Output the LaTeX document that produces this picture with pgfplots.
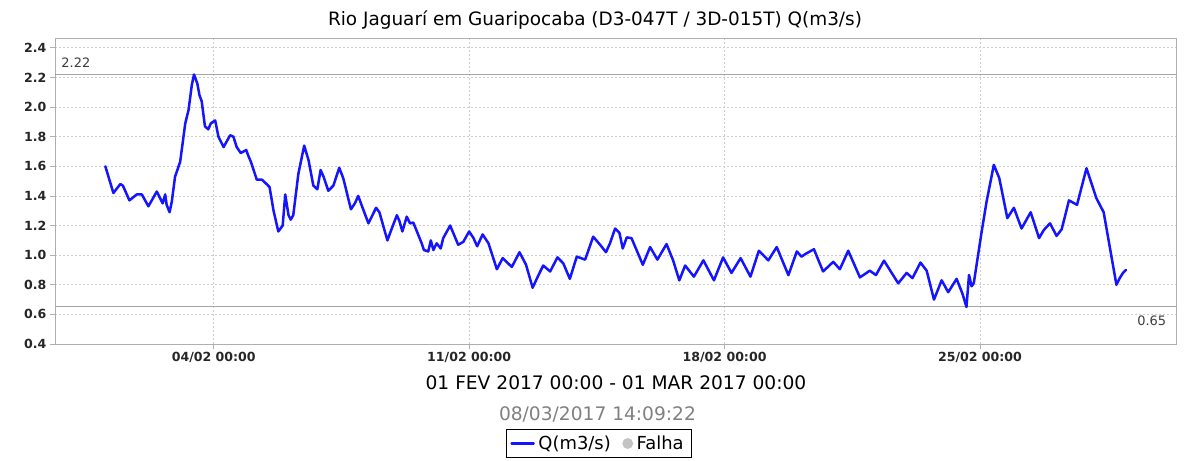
\documentclass[border=0pt]{standalone}
\usepackage{fontspec}
\setmainfont{DejaVu Sans}
\usepackage{pgfplots}
\pgfplotsset{compat=1.18}
\definecolor{gridc}{RGB}{205,205,205}
\definecolor{axc}{RGB}{175,175,175}
\definecolor{refc}{RGB}{165,165,165}
\definecolor{qblue}{RGB}{20,20,255}
\definecolor{labc}{RGB}{60,60,60}
\definecolor{falc}{RGB}{195,195,195}
\begin{document}
\begin{tikzpicture}
\path[use as bounding box] (-55bp,-117bp) rectangle (1134bp,344bp);
\begin{axis}[
  at={(0,0)}, anchor=south west,
  scale only axis, width=1122bp, height=305bp,
  xmin=-1.35, xmax=29.4, ymin=0.4, ymax=2.46,
  xtick={3,10,17,24},
  xticklabels={04/02 00:00,11/02 00:00,18/02 00:00,25/02 00:00},
  ytick={0.4,0.6,0.8,1.0,1.2,1.4,1.6,1.8,2.0,2.2,2.4},
  yticklabel style={/pgf/number format/.cd, fixed, fixed zerofill, precision=1},
  /pgf/number format/assume math mode=true,
  tick label style={font=\bfseries\fontsize{12.6}{14}\selectfont, text=black!85},
  tick pos=left, tick align=outside, major tick length=5bp,
  tick style={axc, line width=0.8bp},
  axis line style={axc, line width=1bp},
  grid=major,
  major grid style={gridc, dash pattern=on 2bp off 2bp, line width=0.8bp},
  legend columns=2,
  legend style={at={(axis description cs:0.4846,-0.3262)}, anchor=center,
    draw=black, line width=0.8bp, font=\fontsize{18}{20}\selectfont,
    inner xsep=4bp, inner ysep=2.5bp,
    nodes={inner xsep=3.5bp, inner ysep=4bp},
    /tikz/every even column/.append style={column sep=8bp}},
]
\addplot[refc, line width=1bp, forget plot] coordinates {(-1.35,2.22) (29.4,2.22)};
\addplot[refc, line width=1bp, forget plot] coordinates {(-1.35,0.65) (29.4,0.65)};
\addplot[qblue, line width=2.5bp, line join=round, line cap=round,
  legend image code/.code={\draw[qblue, line width=2.6bp] (0bp,0bp) -- (22bp,0bp);}] coordinates {
(0.03,1.60) (0.25,1.42) (0.44,1.48) (0.51,1.47) (0.69,1.37) (0.89,1.41) (1.03,1.41)
(1.21,1.33) (1.44,1.43) (1.60,1.35) (1.67,1.41) (1.71,1.34) (1.79,1.29) (1.85,1.36)
(1.94,1.53) (2.08,1.63) (2.22,1.89) (2.31,1.98) (2.40,2.15) (2.46,2.22) (2.55,2.16)
(2.61,2.08) (2.67,2.04) (2.76,1.87) (2.85,1.85) (2.92,1.89) (3.04,1.91) (3.13,1.80)
(3.27,1.73) (3.45,1.81) (3.54,1.80) (3.63,1.73) (3.74,1.69) (3.89,1.71) (3.95,1.67)
(4.02,1.63) (4.18,1.51) (4.32,1.51) (4.45,1.48) (4.53,1.46) (4.64,1.30) (4.77,1.16)
(4.89,1.20) (4.96,1.41) (5.05,1.27) (5.11,1.24) (5.18,1.27) (5.32,1.55) (5.48,1.74)
(5.60,1.64) (5.73,1.47) (5.84,1.445) (5.93,1.575) (6.01,1.53) (6.14,1.435) (6.28,1.47)
(6.44,1.59) (6.55,1.52) (6.76,1.31) (6.87,1.35) (6.96,1.40) (7.08,1.32) (7.24,1.215)
(7.45,1.32) (7.54,1.29) (7.76,1.10) (7.88,1.18) (8.02,1.27) (8.09,1.23) (8.17,1.16)
(8.29,1.26) (8.38,1.215) (8.47,1.22) (8.70,1.08) (8.76,1.035) (8.88,1.025) (8.95,1.10)
(9.02,1.035) (9.11,1.08) (9.22,1.045) (9.29,1.115) (9.48,1.20) (9.70,1.07) (9.84,1.09)
(10.00,1.16) (10.12,1.115) (10.22,1.06) (10.37,1.14) (10.53,1.08) (10.76,0.905) (10.92,0.98)
(11.17,0.92) (11.38,1.02) (11.56,0.935) (11.74,0.78) (11.90,0.865) (12.03,0.93) (12.22,0.89)
(12.42,0.985) (12.58,0.945) (12.76,0.84) (12.95,0.99) (13.18,0.97) (13.40,1.125) (13.59,1.07)
(13.75,1.02) (13.86,1.08) (14.00,1.18) (14.12,1.15) (14.21,1.045) (14.32,1.12) (14.45,1.115)
(14.76,0.935) (14.96,1.055) (15.16,0.97) (15.41,1.075) (15.59,0.965) (15.76,0.83) (15.92,0.93)
(16.16,0.855) (16.42,0.965) (16.71,0.83) (16.96,0.985) (17.19,0.88) (17.44,0.98) (17.71,0.855)
(17.94,1.03) (18.20,0.965) (18.43,1.055) (18.75,0.865) (18.98,1.025) (19.11,0.99) (19.23,1.01)
(19.45,1.04) (19.70,0.89) (19.98,0.955) (20.16,0.905) (20.39,1.03) (20.71,0.85) (20.98,0.895)
(21.15,0.866) (21.37,0.963) (21.53,0.90) (21.76,0.81) (21.99,0.88) (22.15,0.845) (22.37,0.95)
(22.54,0.895) (22.74,0.70) (22.95,0.83) (23.13,0.75) (23.36,0.84) (23.52,0.74) (23.63,0.65)
(23.70,0.866) (23.77,0.79) (23.83,0.81) (24.04,1.148) (24.18,1.36) (24.38,1.61) (24.53,1.52)
(24.75,1.25) (24.93,1.32) (25.14,1.18) (25.39,1.29) (25.62,1.115) (25.75,1.17) (25.92,1.215)
(26.10,1.13) (26.24,1.175) (26.44,1.37) (26.66,1.34) (26.92,1.587) (27.19,1.385) (27.39,1.29)
(27.74,0.80) (27.83,0.845) (27.92,0.88) (28.00,0.90)
};
\addlegendentry{Q(m3/s)}
\addlegendimage{legend image code/.code={\fill[falc] (5bp,0bp) circle (5bp);}}
\addlegendentry{Falha}
\node[anchor=base west, text=labc, font=\fontsize{13}{15}\selectfont] at (axis cs:-1.27,2.27) {2.22};
\node[anchor=base east, text=labc, font=\fontsize{13}{15}\selectfont] at (axis cs:29.2,0.528) {0.65};
\end{axis}
\node[font=\fontsize{18.5}{21}\selectfont] at (540bp,324bp) {Rio Jaguarí em Guaripocaba (D3-047T / 3D-015T) Q(m3/s)};
\node[font=\fontsize{18.7}{21}\selectfont] at (561bp,-39bp) {01 FEV 2017 00:00 - 01 MAR 2017 00:00};
\node[font=\fontsize{18.7}{21}\selectfont, text=gray] at (542.5bp,-70bp) {08/03/2017 14:09:22};
\end{tikzpicture}
\end{document}
